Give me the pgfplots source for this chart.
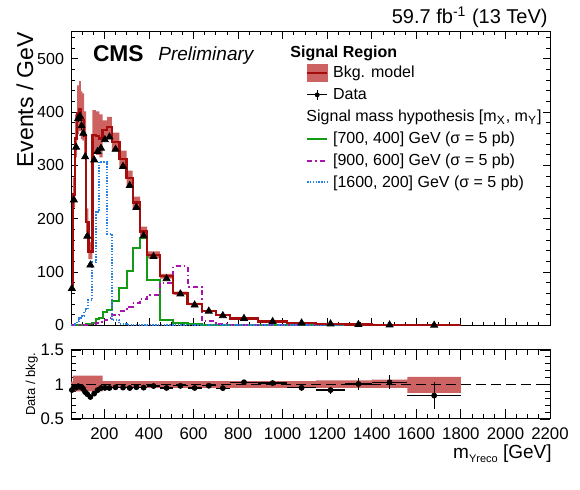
\documentclass[border=0pt]{standalone}
\usepackage{fontspec}
\setmainfont{Liberation Sans}
\usepackage{pgfplots}
\pgfplotsset{compat=1.18}
\usepackage{pgfplotstable}
\usepgfplotslibrary{fillbetween}

\definecolor{bkgred}{RGB}{165,12,12}
\definecolor{bandred}{RGB}{205,98,98}
\definecolor{sgreen}{RGB}{20,155,20}
\definecolor{smag}{RGB}{170,20,170}
\definecolor{sblue}{RGB}{40,130,225}

% histogram table: left bin edge, bkg (events/GeV), band up/down (relative), signals
\pgfplotstableread{
lo bkg bup bdn grn mag blu
50 75 1.04 0.92 0 0 0
58 245 1.13 0.90 0 0 0.5
68 350 1.13 0.90 0 0 3
78 398 1.13 0.90 0 0 8
87 405 1.13 0.90 0 0 13
94 388 1.13 0.90 0 0 14
101 385 1.13 0.90 0 0.3 18
109 355 1.13 0.90 0.5 0.5 27
118 194 1.13 0.90 1.5 1 30
128 138 1.13 0.90 3 1.5 47
146 357 1.13 0.90 4 2 118
162 355 1.13 0.90 12 4 213
177 350 1.13 0.90 14 6 307
192 366 1.05 0.95 24 9 307
212 372 1.05 0.95 29 13 172
233 344 1.05 0.95 45 19 10
267 312 1.05 0.95 69 26 2
300 276 1.05 0.95 102 35 1
327 230 1.05 0.95 145 41 0.5
360 176 1.05 0.95 163 50 0.3
392 132 1.05 0.95 85 57 0.2
449 92 1.05 0.95 9 79 0.1
509 60 1.05 0.95 4.5 111 0
573 40 1.05 0.95 1.5 72 0
637 27 1.05 0.95 0.8 8.7 0
700 19 1.05 0.95 0.5 2 0
763 12.4 1.05 0.95 0.3 0.8 0
890 6.8 1.05 0.95 0.2 0.4 0
1020 4.5 1.05 0.95 0.1 0.2 0
1150 2.83 1.06 0.95 0 0.1 0
1280 1.29 1.06 0.95 0 0 0
1400 0.64 1.07 0.95 0 0 0
1560 0.087 1.11 0.88 0 0 0
1800 0.087 1.11 0.88 0 0 0
}\hist

% data table: bin edges, bkg, data (events/GeV)
\pgfplotstableread{
lo hi bkg data
50 58 75 69
58 68 245 235
68 78 350 334
78 87 398 388
87 94 405 392
94 101 388 374
101 109 385 360
109 118 355 316
118 128 194 167
128 146 138 113
146 162 357 310
162 177 355 326
177 192 350 332
192 212 366 348
212 233 372 353
233 267 344 330
267 300 312 298
300 327 276 262
327 360 230 221
360 392 176 168
392 449 132 129
449 509 92 87.4
509 573 60 58.8
573 637 40 38
637 700 27 26.5
700 763 19 18
763 890 12.4 12.8
890 1020 6.8 6.94
1020 1150 4.5 4.28
1150 1280 2.83 2.6
1280 1400 1.29 1.30
1400 1560 0.64 0.66
1560 1800 0.087 0.073
}\pts

\begin{document}
\begin{tikzpicture}

\begin{axis}[
  at={(35.5pt,82.35pt)}, anchor=south west,
  scale only axis, width=239.5pt, height=146.65pt,
  xmin=50, xmax=2200, ymin=0, ymax=550,
  xtick={200,400,...,2200}, xticklabels={},
  minor xtick={100,150,...,2150},
  ytick={0,100,...,500}, minor ytick={20,40,...,540},
  tick align=inside,
  major tick length=3.5pt, minor tick length=1.75pt,
  every tick/.style={black, line width=0.4pt},
  axis line style={line width=0.5pt},
  yticklabel style={font=\fontsize{8}{9}\selectfont},
  /pgf/number format/assume math mode=true,
  /pgf/number format/1000 sep={},
  scaled ticks=false,
  legend cell align=left,
  legend style={draw=none, fill=none, inner sep=0pt, outer sep=0pt,
    at={(0.4906,0.8909)}, anchor=north west,
    font=\fontsize{8}{9.6}\selectfont,
    row sep=1.95pt, column sep=2.35pt,
    nodes={inner sep=0pt, text height=7pt, text depth=2pt}},
]
\addplot[draw=none, forget plot, name path=bu, const plot mark left] table[x=lo, y expr=\thisrow{bkg}*\thisrow{bup}] {\hist};
\addplot[draw=none, forget plot, name path=bd, const plot mark left] table[x=lo, y expr=\thisrow{bkg}*\thisrow{bdn}] {\hist};
\addplot[fill=bandred, draw=none, forget plot] fill between[of=bu and bd];

\addplot[const plot mark left, sgreen, line width=1pt, forget plot] table[x=lo, y=grn] {\hist};
\addplot[const plot mark left, smag, line width=1pt, forget plot, dash pattern=on 2.5pt off 1.5pt on 0.8pt off 1.5pt] table[x=lo, y=mag] {\hist};
\addplot[const plot mark left, sblue, line width=1pt, forget plot, dash pattern=on 0.7pt off 0.7pt] table[x=lo, y=blu] {\hist};
\addplot[const plot mark left, bkgred, line width=1.2pt, forget plot] table[x=lo, y=bkg] {\hist};

\addplot[only marks, mark=triangle*, mark size=2pt, black, forget plot,
  error bars/.cd, y dir=both, y explicit, error mark=none, error bar style={line width=0.5pt}]
  table[x expr=0.5*(\thisrow{lo}+\thisrow{hi}), y=data,
        y error expr=sqrt(\thisrow{data}/(\thisrow{hi}-\thisrow{lo}))] {\pts};

\addlegendimage{legend image code/.code={\fill[bandred] (0pt,-4.25pt) rectangle (10pt,4.25pt); \draw[bkgred,line width=1.2pt] (0pt,0pt) -- (10pt,0pt);}}
\addlegendentry{Bkg. model}
\addlegendimage{legend image code/.code={\draw[black,line width=0.6pt] (0pt,0pt) -- (10pt,0pt) (5pt,-2.5pt) -- (5pt,2.5pt); \fill[black] (5pt,0pt) circle (1pt);}}
\addlegendentry{Data}
\addlegendimage{empty legend}
\addlegendentry{\hspace*{-13.3pt}Signal mass hypothesis [m\textsubscript{X}, m\textsubscript{Y}]}
\addlegendimage{legend image code/.code={\draw[sgreen,line width=1pt] (0pt,0pt) -- (10pt,0pt);}}
\addlegendentry{[700, 400] GeV (σ = 5 pb)}
\addlegendimage{legend image code/.code={\draw[smag,line width=1pt,dash pattern=on 2.5pt off 1.5pt on 0.8pt off 1.5pt] (0pt,0pt) -- (10pt,0pt);}}
\addlegendentry{[900, 600] GeV (σ = 5 pb)}
\addlegendimage{legend image code/.code={\draw[sblue,line width=1pt,dash pattern=on 0.7pt off 0.7pt] (0pt,0pt) -- (10pt,0pt);}}
\addlegendentry{[1600, 200] GeV (σ = 5 pb)}
\end{axis}

\begin{axis}[
  at={(35.5pt,35.5pt)}, anchor=south west,
  scale only axis, width=239.5pt, height=34.5pt,
  xmin=50, xmax=2200, ymin=0.5, ymax=1.5,
  xtick={200,400,...,2200},
  minor xtick={100,150,...,2150},
  ytick={0.5,1,1.5}, minor ytick={0.6,0.7,0.8,0.9,1.1,1.2,1.3,1.4},
  tick align=inside,
  major tick length=5pt, minor tick length=2.5pt,
  every tick/.style={black, line width=0.4pt},
  axis line style={line width=0.5pt},
  ticklabel style={font=\fontsize{8.4}{9.5}\selectfont},
  xticklabel style={yshift=-1pt},
  /pgf/number format/assume math mode=true,
  /pgf/number format/1000 sep={},
  scaled ticks=false,
]
\addplot[draw=none, name path=ru, const plot mark left] table[x=lo, y=bup] {\hist};
\addplot[draw=none, name path=rd, const plot mark left] table[x=lo, y=bdn] {\hist};
\addplot[fill=bandred, draw=none] fill between[of=ru and rd];
\addplot[black, line width=0.6pt, dash pattern=on 5pt off 2.5pt] coordinates {(50,1) (2200,1)};
\addplot[only marks, mark=*, mark size=1.25pt, black,
  error bars/.cd, x dir=both, x explicit, y dir=both, y explicit, error mark=none, error bar style={line width=0.6pt}]
  table[x expr=0.5*(\thisrow{lo}+\thisrow{hi}), y expr=\thisrow{data}/\thisrow{bkg},
        x error expr=0.5*(\thisrow{hi}-\thisrow{lo}),
        y error expr=sqrt(\thisrow{data}/(\thisrow{hi}-\thisrow{lo}))/\thisrow{bkg}] {\pts};
\end{axis}

\node[font=\bfseries\fontsize{11.4}{13}\selectfont, anchor=base west, inner sep=0pt] at (46.3pt,214.2pt) {CMS};
\node[font=\itshape\fontsize{9.5}{11}\selectfont, anchor=base west, inner sep=0pt] at (79pt,214.8pt) {Preliminary};
\node[font=\fontsize{10}{12}\selectfont, anchor=base east, inner sep=0pt] at (274pt,233.3pt) {59.7 fb\textsuperscript{-1} (13 TeV)};
\node[font=\bfseries\fontsize{8}{9.6}\selectfont, anchor=base west, inner sep=0pt] at (145pt,216.3pt) {Signal Region};
\node[rotate=90, anchor=base east, inner sep=0pt, font=\fontsize{11.5}{13}\selectfont] at (16.6pt,229.2pt) {Events / GeV};
\node[rotate=90, anchor=base, inner sep=0pt, font=\fontsize{6.5}{8}\selectfont] at (17.5pt,52.75pt) {Data / bkg.};
\node[anchor=base east, inner sep=0pt, font=\fontsize{9.5}{11}\selectfont] at (276pt,15.8pt) {m\raisebox{-2.2pt}{\fontsize{5.5}{6}\selectfont Yreco} [GeV]};

\pgfresetboundingbox
\useasboundingbox (0,0) rectangle (290pt,245pt);
\end{tikzpicture}
\end{document}
